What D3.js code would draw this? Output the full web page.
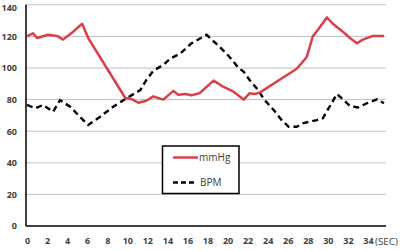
<!DOCTYPE html>
<html>
<head>
<meta charset="utf-8">
<script src="https://cdn.jsdelivr.net/npm/d3@7"></script>
<style>
html,body{margin:0;padding:0;background:#fff;}
svg{display:block;}
</style>
</head>
<body>
<svg id="chart" width="400" height="251"></svg>
<script>
// Data (time in seconds)
const mmHgTime = [0, 0.6, 1, 2.1, 3, 3.6, 4.6, 5.5, 6.1, 9.8, 10.4, 11.1, 11.9, 12.6, 13.6, 14.6, 15.1, 15.8, 16.4, 17.2, 18.6, 19.6, 20.6, 21.6, 22.2, 22.7, 23.2, 26.9, 27.9, 28.5, 29.0, 29.9, 30.5, 31.5, 32.2, 32.9, 33.5, 34.5, 35.6];
const mmHgValues = [120, 122, 119, 121, 120.3, 118, 123, 128, 119, 81, 80.4, 78, 79.3, 82, 80, 85.5, 83, 83.5, 82.7, 84, 92, 88, 85, 80, 84, 83.5, 84.4, 99.5, 107, 120, 124, 132, 128, 123, 119, 115.6, 118, 120.3, 120.3];

const bpmTime = [0, 0.8, 1.6, 2.6, 3.3, 4.3, 5.1, 6.1, 7.3, 8.6, 9.9, 11.3, 11.9, 12.6, 13.6, 14.3, 15.3, 16.4, 17.9, 19.2, 20.2, 21.1, 21.6, 22.2, 22.9, 23.7, 24.6, 25.4, 26.1, 26.9, 27.5, 28.9, 29.5, 30.9, 31.4, 32.2, 33.0, 33.9, 34.9, 35.6];
const bpmValues = [76.6, 74.5, 76.6, 72.3, 79.7, 75.5, 70.3, 64, 69.2, 75.5, 80.8, 86, 92.4, 98.3, 102, 106, 109.3, 115.6, 121, 113.5, 107, 100, 97.7, 92.4, 87.2, 79.7, 73.4, 67, 62.8, 62.8, 65, 67, 68.2, 83.5, 80.8, 76, 75, 77.7, 80.2, 77.7];

const xTicks = [0, 2, 4, 6, 8, 10, 12, 14, 16, 18, 20, 22, 24, 26, 28, 30, 32, 34];
const yTicks = [0, 20, 40, 60, 80, 100, 120, 140];
const seriesNames = ["mmHg", "BPM"];
const xUnit = "(SEC)";

const svg = d3.select("#chart");
const x = d3.scaleLinear().domain([0, 35.8]).range([27, 386]);
const y = d3.scaleLinear().domain([0, 140]).range([226, 4.8]);

// grid
svg.append("g").selectAll("line").data(yTicks.filter(d => d > 0)).join("line")
  .attr("x1", 26).attr("x2", 386)
  .attr("y1", d => y(d)).attr("y2", d => y(d))
  .attr("stroke", "#c0c0c0").attr("stroke-width", 1);

// y axis labels
const yAxis = d3.axisLeft(y).tickValues(yTicks).tickSize(0).tickPadding(9);
const yg = svg.append("g").attr("transform", "translate(26,0)").call(yAxis);
yg.select(".domain").remove();
yg.selectAll("text").attr("font-family", "Open Sans, sans-serif").attr("font-weight", "bold")
  .attr("font-size", 9).attr("fill", "#404040")
  .attr("dy", d => d === 140 ? "0.6em" : "0.32em");

// x axis labels
const xAxis = d3.axisBottom(x).tickValues(xTicks).tickSize(0).tickPadding(12);
const xg = svg.append("g").attr("transform", "translate(0,226)").call(xAxis);
xg.select(".domain").remove();
xg.selectAll("text").attr("font-family", "Open Sans, sans-serif").attr("font-weight", "bold")
  .attr("font-size", 9).attr("fill", "#404040");

svg.append("text").attr("x", 375).attr("y", 245).text(xUnit)
  .attr("font-family", "Open Sans, sans-serif").attr("font-size", 9).attr("fill", "#404040")
  .attr("textLength", 23).attr("lengthAdjust", "spacingAndGlyphs");

// axis lines
svg.append("line").attr("x1", 26).attr("x2", 26).attr("y1", y(140)).attr("y2", 226)
  .attr("stroke", "#000").attr("stroke-width", 1.5);
svg.append("line").attr("x1", 26).attr("x2", 386).attr("y1", 226).attr("y2", 226)
  .attr("stroke", "#000").attr("stroke-width", 1.5);

const line = d3.line().x(d => x(d[0])).y(d => y(d[1]));

svg.append("path").datum(bpmTime.map((t, i) => [t, bpmValues[i]]))
  .attr("d", line).attr("fill", "none").attr("stroke", "#000")
  .attr("stroke-width", 2.4).attr("stroke-dasharray", "6,4");

svg.append("path").datum(mmHgTime.map((t, i) => [t, mmHgValues[i]]))
  .attr("d", line).attr("fill", "none").attr("stroke", "#d9404a")
  .attr("stroke-width", 2.5).attr("stroke-linejoin", "round");

// legend
const lg = svg.append("g");
lg.append("rect").attr("x", 162.5).attr("y", 146).attr("width", 76.5).attr("height", 47.5)
  .attr("fill", "#fff").attr("stroke", "#000").attr("stroke-width", 1.5);
lg.append("line").attr("x1", 173).attr("x2", 198).attr("y1", 157.5).attr("y2", 157.5)
  .attr("stroke", "#d9404a").attr("stroke-width", 2.5);
lg.append("line").attr("x1", 173).attr("x2", 196).attr("y1", 182.5).attr("y2", 182.5)
  .attr("stroke", "#000").attr("stroke-width", 2.4).attr("stroke-dasharray", "5,3");
lg.append("text").attr("x", 199).attr("y", 161).text(seriesNames[0])
  .attr("font-family", "Open Sans, sans-serif").attr("font-size", 10).attr("fill", "#404040");
lg.append("text").attr("x", 200).attr("y", 186).text(seriesNames[1])
  .attr("font-family", "Open Sans, sans-serif").attr("font-size", 10).attr("fill", "#404040");
</script>
</body>
</html>
